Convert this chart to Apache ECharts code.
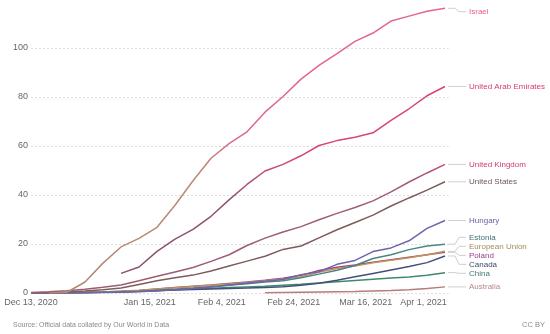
<!DOCTYPE html>
<html>
<head>
<meta charset="utf-8">
<script src="https://cdn.jsdelivr.net/npm/echarts@6/dist/echarts.min.js"></script>
<style>
html,body{margin:0;padding:0;background:#fff;}
#c{width:550px;height:334px;}
</style>
</head>
<body>
<div id="c"></div>
<script>
// Days since Dec 13, 2020
const days = [0,5,10,15,20,25,30,35,40,45,50,55,60,65,70,75,80,85,90,95,100,105,110,115];
const tickDays = [0,33,53,73,93,109];
const tickLabels = ["Dec 13, 2020","Jan 15, 2021","Feb 4, 2021","Feb 24, 2021","Mar 16, 2021","Apr 1, 2021"];
const yTicks = [0,20,40,60,80,100];

const seriesNames = ["Israel","United Arab Emirates","United Kingdom","United States","Hungary","Estonia","European Union","Poland","Canada","China","Australia"];

const israel = [null,0.05,0.3,4.5,12.2,18.8,22.3,26.8,35.8,45.8,55,61,65.8,73.8,80.2,87.3,92.9,97.7,102.7,106.1,111,113,115,116.2];
const uae = [null,null,null,null,null,8,10.6,17,22,26,31.3,38,44.3,49.8,52.5,56,60.2,62.2,63.6,65.4,70.5,75.2,80.5,84.3];
const uk = [0.2,0.5,0.9,1.5,2.3,3.3,5,6.8,8.6,10.4,12.9,15.6,19.4,22.4,24.9,27.1,29.9,32.5,34.9,37.6,41.3,45.3,49,52.5];
const us = [0,0.1,0.4,0.8,1.3,2,3.5,5,6.2,7.3,9,11,13,15,17.8,19.2,22.5,25.8,28.8,31.8,35.5,38.8,42,45.4];
const hungary = [0,0.02,0.05,0.1,0.2,0.3,0.5,0.9,1.3,1.8,2.4,3.3,4.1,4.8,5.5,7.5,8.7,11.7,13.3,16.9,18.4,21.3,26.4,29.6];
const estonia = [0,0.02,0.05,0.15,0.3,0.5,0.7,1.1,1.5,2.0,2.6,3.2,3.8,4.5,5.0,6.2,7.7,9.3,11.2,14.1,15.6,17.7,19.2,19.9];
const eu = [0,0.05,0.1,0.2,0.4,0.7,1.1,1.6,2.1,2.7,3.2,3.7,4.3,5.0,5.7,6.6,8.5,10,11,12.3,13.4,14.4,15.6,17.0];
const poland = [0,0.03,0.1,0.2,0.4,0.7,1.0,1.6,2.2,2.8,3.3,3.9,4.5,5.2,6.0,7.2,9.2,10.5,11.4,12.6,13.6,14.6,15.6,16.6];
const canada = [0,0.02,0.1,0.2,0.3,0.5,0.7,0.9,1.2,1.4,1.6,1.8,2.0,2.2,2.6,3.2,4.0,5.2,6.6,8.0,9.4,10.8,12.4,15.1];
const china = [0,0.05,0.1,0.2,0.3,0.5,0.8,1.0,1.3,1.6,1.9,2.2,2.5,2.8,3.2,3.6,4.1,4.6,5.1,5.6,6.1,6.5,7.2,8.3];
const australia = [null,null,null,null,null,null,null,null,null,null,null,null,null,0.1,0.2,0.3,0.4,0.5,0.6,0.8,1.0,1.3,1.8,2.5];

const allValues = [israel,uae,uk,us,hungary,estonia,eu,poland,canada,china,australia];

const G = echarts.graphic.LinearGradient;
const lineColors = [
  new G(0,0,0,1,[{offset:0,color:'#e5658f'},{offset:0.42,color:'#e0668d'},{offset:0.6,color:'#b88b74'},{offset:1,color:'#b08a72'}]),
  new G(0,0,0,1,[{offset:0,color:'#d9437c'},{offset:0.4,color:'#d4467c'},{offset:0.6,color:'#8f5271'},{offset:1,color:'#8a5070'}]),
  new G(0,0,0,1,[{offset:0,color:'#d2447a'},{offset:0.12,color:'#a25a78'},{offset:1,color:'#9c5c72'}]),
  '#7d5c5c','#6e63ad','#4a8585','#c3935f','#a3466f','#44507a','#3f8a6c','#b97b7b'
];
const labelColors = ['#e5608a','#d63a76','#d23a6c','#6f5656','#6a5ea6','#3f6f77','#a38b5a','#9a3d93','#3e4a6c','#3a7b6a','#b58888'];

const chart = echarts.init(document.getElementById('c'), null, {renderer:'canvas'});

const series = seriesNames.map((name,i)=>({
  name: name,
  type: 'line',
  showSymbol: false,
  symbol: 'none',
  silent: true,
  animation: false,
  z: 20 - i,
  lineStyle: {width: 1.5, color: lineColors[i]},
  data: days.map((d,j)=>[d, allValues[i][j]])
}));

chart.setOption({
  animation: false,
  backgroundColor: '#fff',
  textStyle: {fontFamily: 'Liberation Sans, Arial, sans-serif'},
  grid: {left: 31, top: -1, width: 417.6, height: 294, outerBoundsMode: 'none', containLabel: false},
  xAxis: {
    type: 'value', min: 0, max: 116,
    axisLine: {show: false}, axisTick: {show: false}, splitLine: {show: false},
    axisLabel: {
      customValues: tickDays,
      margin: 5, fontSize: 9, color: '#666',
      formatter: v => { const k = tickDays.indexOf(v); return k >= 0 ? tickLabels[k] : ''; }
    }
  },
  yAxis: {
    type: 'value', min: 0, max: 120, interval: 20,
    axisLine: {show: false}, axisTick: {show: false},
    axisLabel: {margin: 3, fontSize: 9, color: '#666', showMaxLabel: false,
      formatter: v => yTicks.indexOf(v) >= 0 ? String(v) : ''},
    splitLine: {show: true, lineStyle: {color: '#dcdcdc', type: [2,2], width: 1}}
  },
  series: series
});

// end labels with simple anti-overlap layout
const items = seriesNames.map((name,i)=>{
  const vals = allValues[i];
  let k = vals.length - 1;
  while (k >= 0 && vals[k] == null) k--;
  const p = chart.convertToPixel({gridIndex:0}, [days[k], vals[k]]);
  return {i, name, x: p[0], y: p[1], ly: p[1]};
}).sort((a,b)=>a.y-b.y);

const sp = 9, minY = 11.7;
let clusters = items.map(it=>({its:[it], c: it.y}));
function place(cl){ const n = cl.its.length; const m = cl.its.reduce((s,t)=>s+t.y,0)/n; let st = m - (n-1)*sp/2; if (st < minY) st = minY; cl.its.forEach((t,j)=>t.ly = st + j*sp); }
clusters.forEach(place);
let changed = true;
while (changed) {
  changed = false;
  for (let j = 0; j < clusters.length-1; j++) {
    const a = clusters[j], b = clusters[j+1];
    if (b.its[0].ly < a.its[a.its.length-1].ly + sp) {
      a.its = a.its.concat(b.its); clusters.splice(j+1,1); place(a); changed = true; break;
    }
  }
}

const graphics = [];
items.forEach(it=>{
  graphics.push({type:'polyline', silent:true, z:50,
    shape:{points:[[it.x+3, it.y],[455, it.y],[459, it.ly],[466, it.ly]]},
    style:{stroke:'#cfcfcf', lineWidth:1, fill:null}});
  graphics.push({type:'text', silent:true, z:50, x:469, y:it.ly,
    style:{text: it.name, fill: labelColors[it.i], font:'8px Liberation Sans, Arial, sans-serif', verticalAlign:'middle', align:'left'}});
});
graphics.push({type:'text', silent:true, x:13, y:325,
  style:{text:'Source: Official data collated by Our World in Data', fill:'#8a8a8a', font:'7px Liberation Sans, Arial, sans-serif', verticalAlign:'middle'}});
graphics.push({type:'text', silent:true, x:545, y:325,
  style:{text:'CC BY', fill:'#8a8a8a', font:'7.5px Liberation Sans, Arial, sans-serif', verticalAlign:'middle', align:'right'}});
chart.setOption({graphic: graphics});
</script>
</body>
</html>
